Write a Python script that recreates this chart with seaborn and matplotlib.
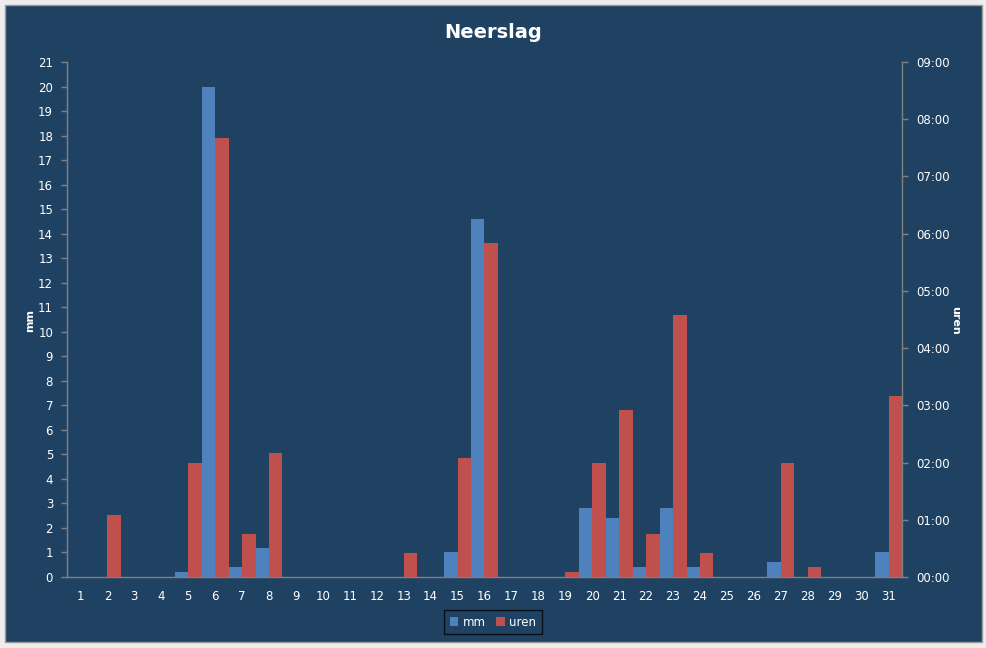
import pandas as pd
import matplotlib
matplotlib.use("Agg")
import matplotlib.pyplot as plt
from matplotlib.patches import Patch, Rectangle
from matplotlib.ticker import FixedLocator, FuncFormatter
import seaborn as sns

# --- data ---
dagen = list(range(1, 32))
mm = [0, 0, 0, 0, 0.2, 20.0, 0.4, 1.2, 0, 0,
      0, 0, 0, 0, 1.0, 14.6, 0, 0, 0, 2.8,
      2.4, 0.4, 2.8, 0.4, 0, 0, 0.6, 0, 0, 0, 1.0]
# uren in minutes
uren_min = [0, 65, 0, 0, 120, 460, 45, 130, 0, 0,
            0, 0, 25, 0, 125, 350, 0, 0, 5, 120,
            175, 45, 275, 25, 0, 0, 120, 10, 0, 0, 190]

bg = "#1F4263"
blauw = "#4F81BD"
rood = "#C0504D"
grijs = "#808080"

df = pd.DataFrame({
    "dag": [str(d) for d in dagen] * 2,
    "reeks": ["mm"] * len(dagen) + ["uren"] * len(dagen),
    "waarde": mm + uren_min,
})
order = [str(d) for d in dagen]
pal = {"mm": blauw, "uren": rood}

sns.set_style("white")
plt.rcParams["font.family"] = ["DejaVu Sans"]

fig = plt.figure(figsize=(9.87, 6.48), dpi=100, facecolor="#EDEDED")
fig.patches.append(Rectangle((5 / 987, 1 - 642 / 648), 977 / 987, 637 / 648,
                             transform=fig.transFigure, facecolor=bg,
                             edgecolor="#9A9A9A", linewidth=1, zorder=-1))

ax = fig.add_axes([67 / 987, 1 - 577 / 648, 835 / 987, 515 / 648])
ax.set_facecolor("none")
ax2 = ax.twinx()
ax2.set_facecolor("none")

# mm on the left axis, uren on the right axis, dodged side by side
sns.barplot(data=df[df["reeks"] == "mm"], x="dag", y="waarde", hue="reeks",
            hue_order=["mm", "uren"], order=order, palette=pal, dodge=True,
            width=1, gap=0, legend=False, ax=ax, errorbar=None, saturation=1)
sns.barplot(data=df[df["reeks"] == "uren"], x="dag", y="waarde", hue="reeks",
            hue_order=["mm", "uren"], order=order, palette=pal, dodge=True,
            width=1, gap=0, legend=False, ax=ax2, errorbar=None, saturation=1)
for p in ax.patches + ax2.patches:
    p.set_linewidth(0)

ax.set_xlim(-0.5, 30.5)
ax.set_ylim(0, 21)
ax.set_yticks(range(0, 22))
ax2.set_ylim(0, 540)
ax2.set_yticks(range(0, 541, 60))
ax2.yaxis.set_major_formatter(FuncFormatter(lambda v, p: f"{int(v) // 60:02d}:{int(v) % 60:02d}"))

ax.set_xticks(range(31))
ax.set_xticklabels(order)
ax.xaxis.set_minor_locator(FixedLocator([i - 0.5 for i in range(32)]))
ax.tick_params(axis="x", which="major", length=0, pad=9, labelsize=8.5, colors="white")
ax.tick_params(axis="x", which="minor", length=4, width=1, color=grijs, direction="out")
ax.tick_params(axis="y", length=4, width=1, color=grijs, labelsize=8.5, labelcolor="white", pad=6)
ax2.tick_params(axis="y", length=4, width=1, color=grijs, labelsize=8.5, labelcolor="white", pad=6)

for a in (ax, ax2):
    for s in a.spines.values():
        s.set_visible(False)
ax.spines["left"].set_visible(True)
ax.spines["bottom"].set_visible(True)
ax2.spines["right"].set_visible(True)
for s in (ax.spines["left"], ax.spines["bottom"], ax2.spines["right"]):
    s.set_color(grijs)
    s.set_linewidth(1)

ax.set_xlabel("")
ax.set_ylabel("")
ax2.set_ylabel("")
fig.text(30 / 987, 1 - 320 / 648, "mm", rotation=90, color="white", fontsize=8,
         fontweight="bold", ha="center", va="center")
fig.text(955 / 987, 1 - 320 / 648, "uren", rotation=270, color="white", fontsize=8,
         fontweight="bold", ha="center", va="center")
fig.text(493 / 987, 1 - 32 / 648, "Neerslag", color="white", fontsize=14,
         fontweight="bold", ha="center", va="center")

handles = [Patch(facecolor=blauw, edgecolor="none", label="mm"),
           Patch(facecolor=rood, edgecolor="none", label="uren")]
leg = fig.legend(handles=handles, loc="center", bbox_to_anchor=(493 / 987, 1 - 622 / 648),
                 ncol=2, frameon=True, fontsize=8.5, handlelength=0.7, handleheight=0.7,
                 handletextpad=0.4, columnspacing=0.9, borderpad=0.45, fancybox=False)
leg.get_frame().set_facecolor(bg)
leg.get_frame().set_edgecolor("black")
leg.get_frame().set_linewidth(1)
for t in leg.get_texts():
    t.set_color("white")

fig.savefig("out.png", dpi=100, facecolor=fig.get_facecolor())
